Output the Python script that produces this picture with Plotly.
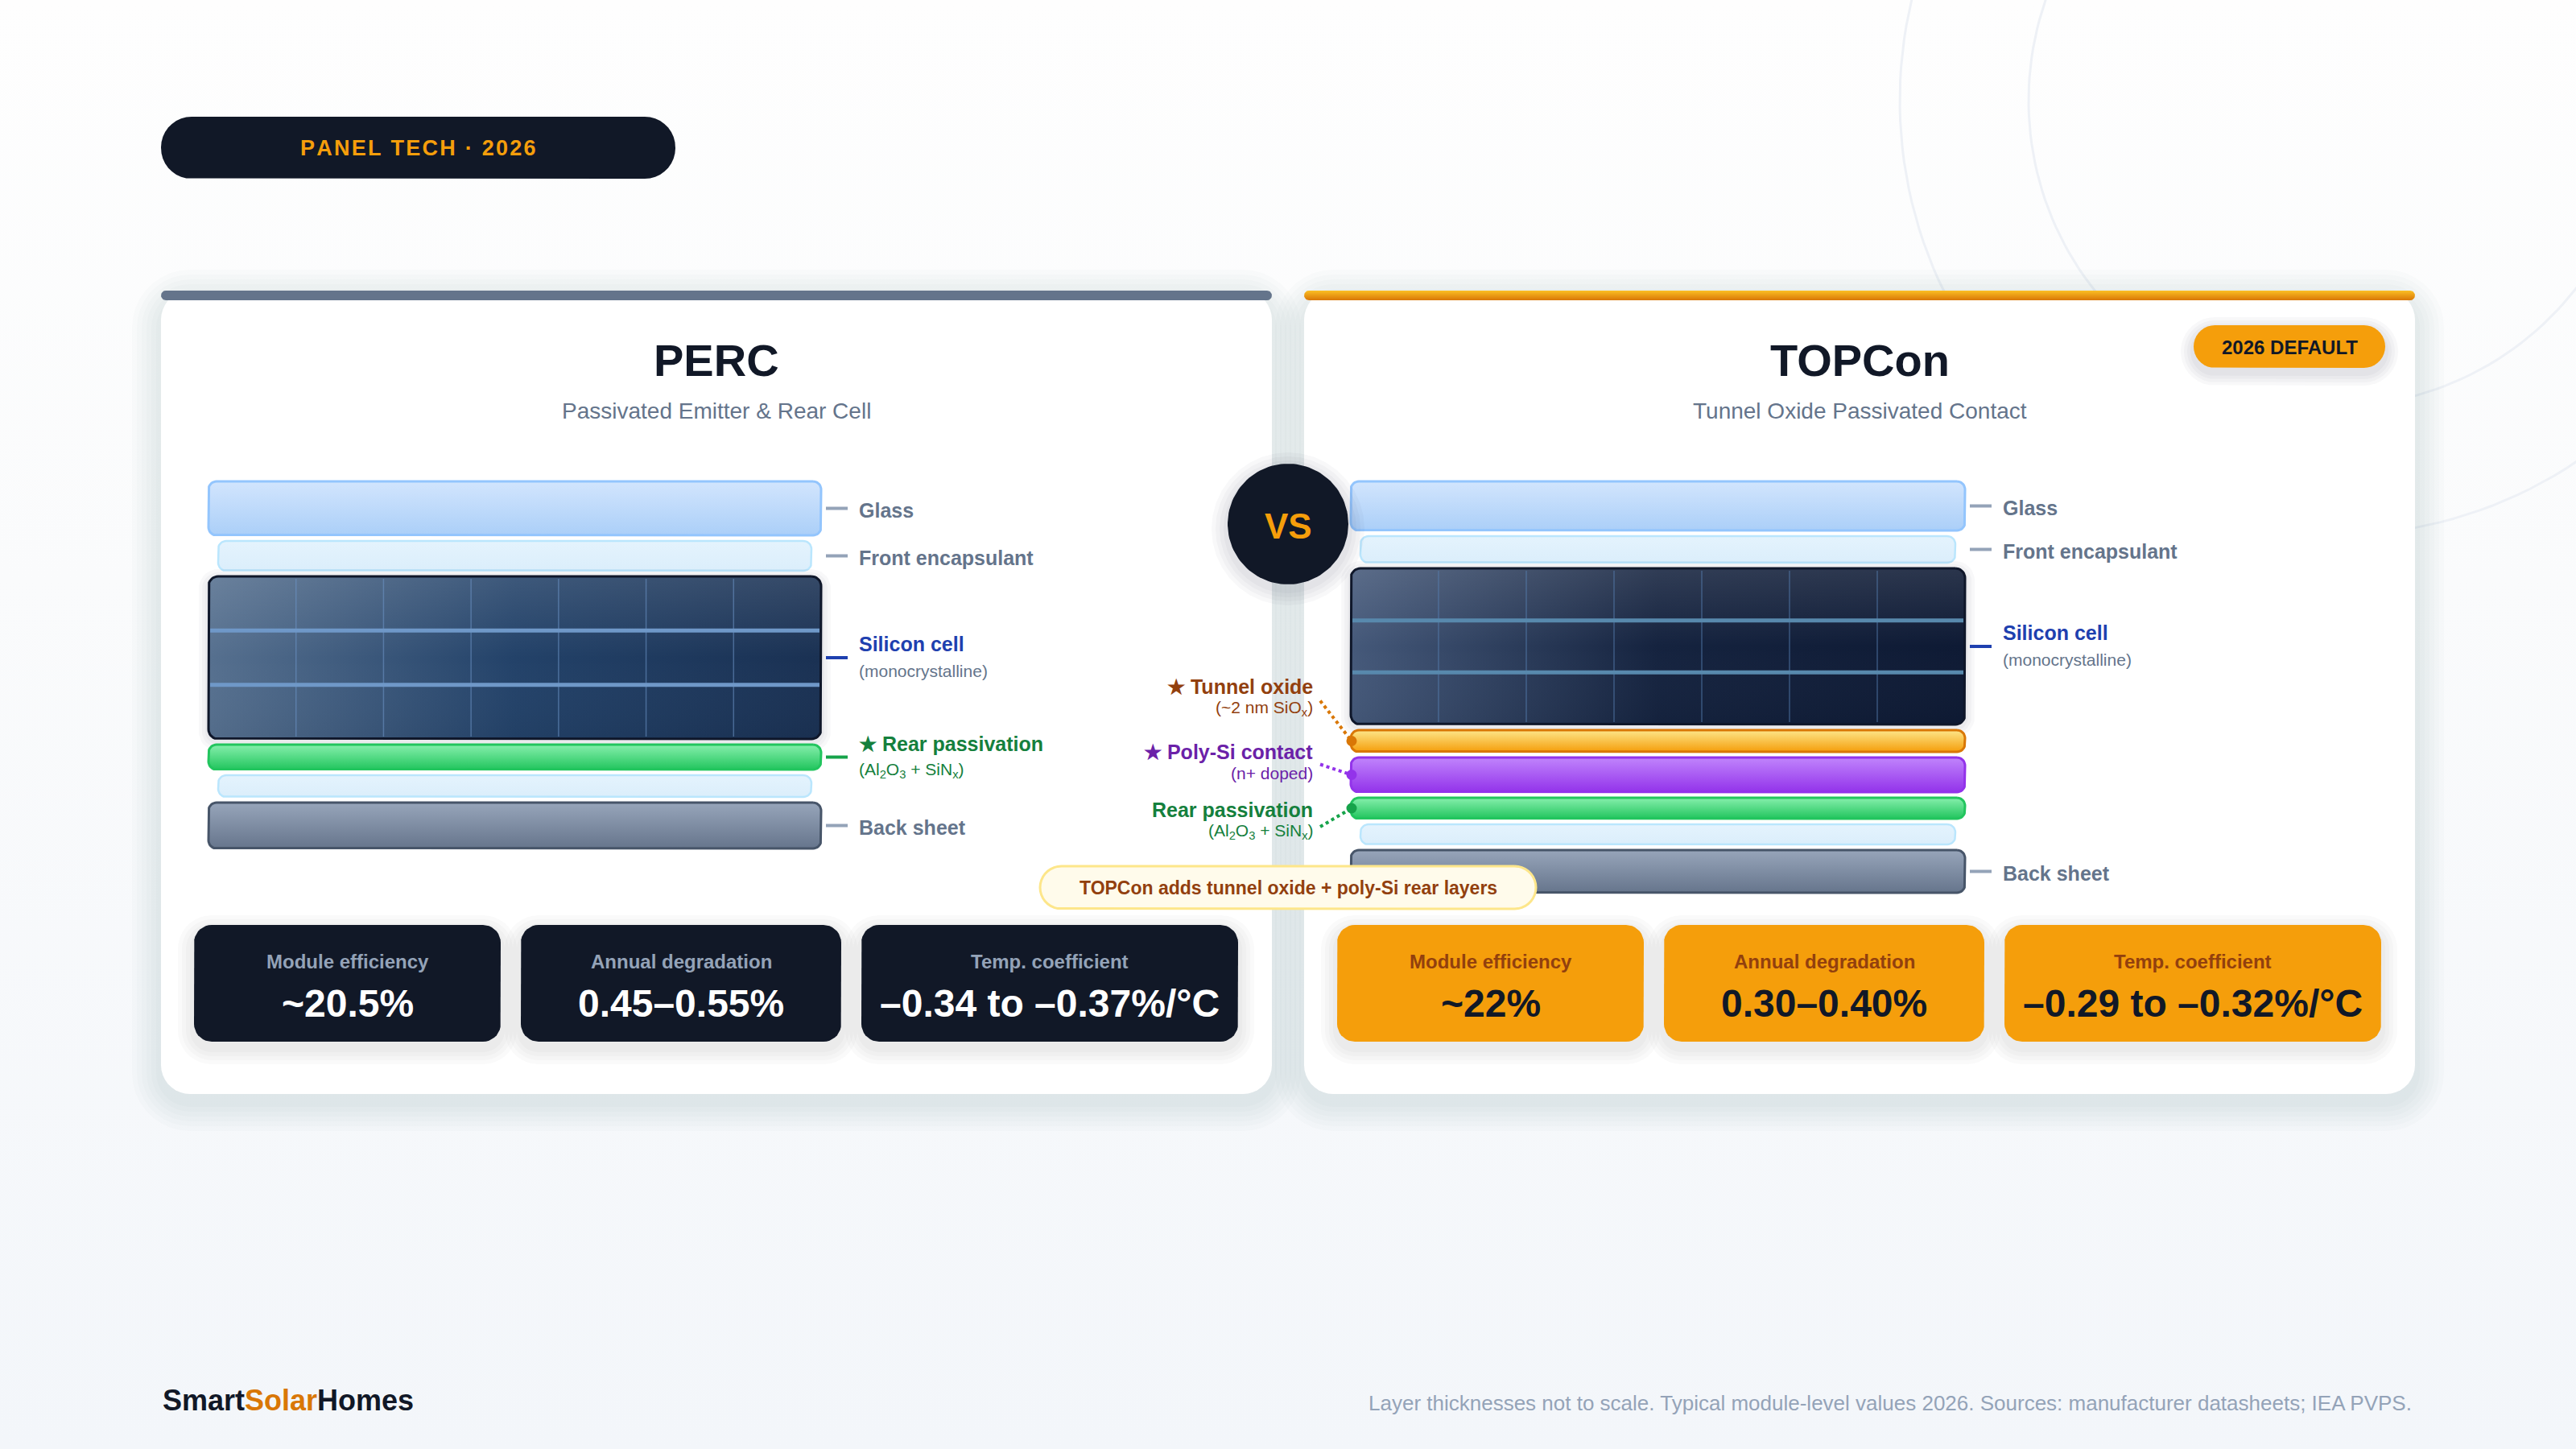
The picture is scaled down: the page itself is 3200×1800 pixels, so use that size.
import numpy as np
import plotly.graph_objects as go

W, H = 3200, 1800
FONT = "Liberation Sans, Arial, sans-serif"

# ---------------- data ----------------
badge_text = "PANEL TECH · 2026"
tech_names = ["PERC", "TOPCon"]
tech_subtitles = ["Passivated Emitter & Rear Cell", "Tunnel Oxide Passivated Contact"]
perc_layers = ["Glass", "Front encapsulant", "Silicon cell", "Rear passivation",
               "Rear encapsulant", "Back sheet"]
topcon_layers = ["Glass", "Front encapsulant", "Silicon cell", "Tunnel oxide",
                 "Poly-Si contact", "Rear passivation", "Rear encapsulant", "Back sheet"]
stat_labels = ["Module efficiency", "Annual degradation", "Temp. coefficient"]
perc_stats = ["~20.5%", "0.45–0.55%", "–0.34 to –0.37%/°C"]
topcon_stats = ["~22%", "0.30–0.40%", "–0.29 to –0.32%/°C"]
default_badge = "2026 DEFAULT"
callout_text = "TOPCon adds tunnel oxide + poly-Si rear layers"
brand = ["Smart", "Solar", "Homes"]
footnote = ("Layer thicknesses not to scale. Typical module-level values 2026. "
            "Sources: manufacturer datasheets; IEA PVPS.")

# ---------------- styles / sizes ----------------
layer_style = {
    "Glass": dict(top="#d2e5fd", bot="#abcff8", border="#93c5fd", inset=0, bw=3),
    "Front encapsulant": dict(top="#e4f3fd", bot="#dbeefb", border="#bae6fd", inset=12, bw=2.5),
    "Silicon cell": dict(top=None, bot=None, border="#0f172a", inset=0, bw=3),
    "Tunnel oxide": dict(top="#fde68a", bot="#f59e0b", border="#d97706", inset=0, bw=3),
    "Poly-Si contact": dict(top="#c084fc", bot="#9333ea", border="#9333ea", inset=0, bw=3),
    "Rear passivation": dict(top="#86efac", bot="#22c55e", border="#22c55e", inset=0, bw=3),
    "Rear encapsulant": dict(top="#e4f3fd", bot="#dbeefb", border="#bae6fd", inset=12, bw=2.5),
    "Back sheet": dict(top="#97a5ba", bot="#66758c", border="#475569", inset=0, bw=3),
}
cell_style = {
    False: dict(h=[[0, "#56708f"], [0.5, "#234269"], [1, "#1a3153"]], grid="#6f98c8",
                vline="rgba(110,150,200,0.55)"),
    True: dict(h=[[0, "#45597a"], [0.5, "#15233f"], [1, "#0e1a34"]], grid="#5889ad",
               vline="rgba(90,130,180,0.55)"),
}
perc_h = {"Glass": 67, "Front encapsulant": 37, "Silicon cell": 202, "Rear passivation": 31,
          "Rear encapsulant": 27, "Back sheet": 57}
topcon_h = {"Glass": 61, "Front encapsulant": 33, "Silicon cell": 194, "Tunnel oxide": 27,
            "Poly-Si contact": 43, "Rear passivation": 26, "Rear encapsulant": 25, "Back sheet": 53}
right_labels = {
    "Glass": ("Glass", None, "#64748b", "#94a3b8"),
    "Front encapsulant": ("Front encapsulant", None, "#64748b", "#94a3b8"),
    "Silicon cell": ("Silicon cell", "(monocrystalline)", "#1e40af", "#1e40af"),
    "Back sheet": ("Back sheet", None, "#64748b", "#94a3b8"),
}
perc_extra = {"Rear passivation": ("★ Rear passivation", "(Al<sub>2</sub>O<sub>3</sub> + SiN<sub>x</sub>)",
                                   "#15803d", "#16a34a")}
# labels placed left of the TOPCon stack: text, sub, colour, dy of label, dy of line start
left_labels = {
    "Tunnel oxide": ("★ Tunnel oxide", "(~2 nm SiO<sub>x</sub>)", "#92400e", "#d97706", -68, -50),
    "Poly-Si contact": ("★ Poly-Si contact", "(n+ doped)", "#6b21a8", "#9333ea", -29, -13),
    "Rear passivation": ("Rear passivation", "(Al<sub>2</sub>O<sub>3</sub> + SiN<sub>x</sub>)",
                         "#15803d", "#16a34a", 2, 23),
}
cards = [dict(x0=200, x1=1580), dict(x0=1620, x1=3000)]
card_y0, card_y1 = 361, 1359
stack_y0 = 598
stat_w = [381, 398, 468]

fig = go.Figure()
ann = []


def rr_pts(x0, y0, x1, y1, r, n=10):
    r = min(r, (x1 - x0) / 2, (y1 - y0) / 2)
    xs, ys = [], []
    for cx, cy, a0, a1 in [(x1 - r, y0 + r, -90, 0), (x1 - r, y1 - r, 0, 90),
                           (x0 + r, y1 - r, 90, 180), (x0 + r, y0 + r, 180, 270)]:
        t = np.radians(np.linspace(a0, a1, n))
        xs += list(cx + r * np.cos(t))
        ys += list(cy + r * np.sin(t))
    return xs + [xs[0]], ys + [ys[0]]


def box(x0, y0, x1, y1, r, fill=None, grad=None, gtype="vertical", line=None, lw=0):
    xs, ys = rr_pts(x0, y0, x1, y1, r)
    kw = dict(x=xs, y=ys, mode="lines", fill="toself", hoverinfo="skip", showlegend=False,
              line=dict(color=line if line else "rgba(0,0,0,0)", width=lw))
    if grad:
        scale = grad if isinstance(grad[0], list) else [[0, grad[0]], [1, grad[1]]]
        if gtype == "vertical":
            kw["fillgradient"] = dict(type="vertical", colorscale=scale, start=y0, stop=y1)
        else:
            kw["fillgradient"] = dict(type="horizontal", colorscale=scale, start=x0, stop=x1)
        kw["fillcolor"] = scale[0][1]
    else:
        kw["fillcolor"] = fill
    fig.add_trace(go.Scatter(**kw))


def shadow(x0, y0, x1, y1, r, steps=5, spread=7, alpha=0.018, dy=5):
    for k in range(steps, 0, -1):
        e = k * spread
        box(x0 - e, y0 - e + dy, x1 + e, y1 + e + dy, r + e, fill=f"rgba(30,41,59,{alpha})")


def text(x, y, s, size, color, anchor="center", bold=False):
    ann.append(dict(x=x, y=y, xref="x", yref="y", text=f"<b>{s}</b>" if bold else s,
                    showarrow=False, xanchor=anchor, yanchor="middle",
                    font=dict(family=FONT, size=size, color=color)))


# background
fig.add_trace(go.Scatter(x=[0, W, W, 0, 0], y=[0, 0, H, H, 0], mode="lines", fill="toself",
                         fillgradient=dict(type="vertical",
                                           colorscale=[[0, "#fefefe"], [0.4, "#fafbfc"], [1, "#f3f6fa"]],
                                           start=0, stop=H),
                         line=dict(width=0), hoverinfo="skip", showlegend=False))
# faint decorative rings
for rad in [540, 380]:
    t = np.linspace(0, 2 * np.pi, 200)
    fig.add_trace(go.Scatter(x=2900 + rad * np.cos(t), y=125 + rad * np.sin(t), mode="lines",
                             line=dict(color="#eef1f6", width=3), hoverinfo="skip", showlegend=False))

# header badge (hair spaces give the tracking)
box(200, 145, 839, 222, 38, fill="#111827")
text(519, 184, "\u200a".join(badge_text), 27, "#f59e0b", bold=True)

# cards
for i, c in enumerate(cards):
    shadow(c["x0"], card_y0, c["x1"], card_y1, 36, steps=6, spread=6, alpha=0.014, dy=10)
for i, c in enumerate(cards):
    box(c["x0"], card_y0, c["x1"], card_y1, 36, fill="#ffffff")
    if i == 0:
        box(c["x0"], card_y0, c["x1"], card_y0 + 12, 6, fill="#64748b")
    else:
        box(c["x0"], card_y0, c["x1"], card_y0 + 12, 6, grad=("#fbbf24", "#d97706"))
    cx = (c["x0"] + c["x1"]) / 2
    text(cx, 447, tech_names[i], 56, "#111827", bold=True)
    text(cx, 510, tech_subtitles[i], 28, "#64748b")


def draw_stack(layers, heights, x0, x1, extra):
    y = stack_y0
    centers = {}
    for name in layers:
        st = layer_style[name]
        h = heights[name]
        lx0, lx1 = x0 + st["inset"], x1 - st["inset"]
        if name == "Silicon cell":
            cs = cell_style[x0 > 1600]
            shadow(lx0, y, lx1, y + h, 12, steps=3, spread=4, alpha=0.03, dy=3)
            box(lx0, y, lx1, y + h, 12, grad=cs["h"], gtype="horizontal")
            box(lx0, y, lx1, y + h, 12, grad=[[0, "rgba(255,255,255,0.12)"], [0.5, "rgba(255,255,255,0)"],
                                              [1, "rgba(0,0,0,0.04)"]])
            vx, vy = [], []
            for k in range(1, 7):
                xx = lx0 + (lx1 - lx0) * k / 7
                vx += [xx, xx, None]
                vy += [y + 3, y + h - 3, None]
            fig.add_trace(go.Scatter(x=vx, y=vy, mode="lines", hoverinfo="skip", showlegend=False,
                                     line=dict(color=cs["vline"], width=1.5)))
            hx, hy = [], []
            for k in (1, 2):
                yy = y + h * k / 3
                hx += [lx0 + 2, lx1 - 2, None]
                hy += [yy, yy, None]
            fig.add_trace(go.Scatter(x=hx, y=hy, mode="lines", hoverinfo="skip", showlegend=False,
                                     line=dict(color=cs["grid"], width=5)))
            box(lx0, y, lx1, y + h, 12, fill="rgba(0,0,0,0)", line=st["border"], lw=st["bw"])
        else:
            box(lx0, y, lx1, y + h, 10, grad=(st["top"], st["bot"]), line=st["border"], lw=st["bw"])
        centers[name] = y + h / 2
        lab = right_labels.get(name) or extra.get(name)
        if lab:
            t, sub, col, lcol = lab
            cy = y + h / 2
            fig.add_trace(go.Scatter(x=[x1 + 6, x1 + 33], y=[cy, cy], mode="lines", hoverinfo="skip",
                                     showlegend=False, line=dict(color=lcol, width=4)))
            if sub:
                text(x1 + 45, cy - 17, t, 25, col, anchor="left", bold=True)
                text(x1 + 45, cy + 16, sub, 21, col if name != "Silicon cell" else "#64748b", anchor="left")
            else:
                text(x1 + 45, cy + 2, t, 25, "#64748b", anchor="left", bold=True)
        y += h + 7
    return centers


draw_stack(perc_layers, perc_h, 259, 1020, perc_extra)
tc = draw_stack(topcon_layers, topcon_h, 1678, 2441, {})

# left-side labels for the TOPCon-only layers
for name, (t, sub, col, lcol, dy, ldy) in left_labels.items():
    cy = tc[name]
    text(1633, cy + dy, t, 25, col, anchor="right", bold=True)
    text(1633, cy + dy + 27, sub, 21, col, anchor="right")
    fig.add_trace(go.Scatter(x=[1640, 1679], y=[cy + ldy, cy], mode="lines", hoverinfo="skip",
                             showlegend=False, line=dict(color=lcol, width=4, dash="dot")))
    fig.add_trace(go.Scatter(x=[1679], y=[cy], mode="markers", hoverinfo="skip", showlegend=False,
                             marker=dict(color=lcol, size=13, line=dict(width=0))))

# VS bubble
shadow(1525, 576, 1675, 726, 75, steps=4, spread=5, alpha=0.03, dy=6)
t = np.linspace(0, 2 * np.pi, 120)
fig.add_trace(go.Scatter(x=1600 + 75 * np.cos(t), y=651 + 75 * np.sin(t), mode="lines", fill="toself",
                         fillcolor="#111827", line=dict(width=0), hoverinfo="skip", showlegend=False))
text(1600, 653, "VS", 44, "#f59e0b", bold=True)

# 2026 default badge
shadow(2725, 404, 2963, 457, 27, steps=4, spread=4, alpha=0.03, dy=6)
box(2725, 404, 2963, 457, 27, fill="#f59e0b")
text(2844, 431, default_badge, 24, "#111827", bold=True)

# callout
box(1292, 1076, 1908, 1129, 27, fill="#fffbeb", line="#fde68a", lw=3)
text(1600, 1103, callout_text, 23, "#92400e", bold=True)

# stat boxes
for i, c in enumerate(cards):
    vals = perc_stats if i == 0 else topcon_stats
    bg, lc, vc = ("#111827", "#94a3b8", "#ffffff") if i == 0 else ("#f59e0b", "#92400e", "#111827")
    x = c["x0"] + 41
    for j, lab in enumerate(stat_labels):
        w = stat_w[j]
        shadow(x, 1149, x + w, 1294, 22, steps=4, spread=5, alpha=0.025, dy=8)
        box(x, 1149, x + w, 1294, 22, fill=bg)
        text(x + w / 2, 1194, lab, 24, lc, bold=True)
        text(x + w / 2, 1246, vals[j], 48, vc, bold=True)
        x += w + 25

# footer
ann.append(dict(x=200, y=1739, xref="x", yref="y", showarrow=False, xanchor="left", yanchor="middle",
                text=f"<b>{brand[0]}<span style='color:#d97706'>{brand[1]}</span>{brand[2]}</b>",
                font=dict(family=FONT, size=36, color="#111827")))
text(2998, 1743, footnote, 26, "#94a3b8", anchor="right")

fig.update_layout(
    width=W, height=H, margin=dict(l=0, r=0, t=0, b=0),
    paper_bgcolor="#f9fafc", plot_bgcolor="#f9fafc",
    xaxis=dict(range=[0, W], visible=False, fixedrange=True),
    yaxis=dict(range=[H, 0], visible=False, fixedrange=True),
    annotations=ann, showlegend=False,
)
fig.write_html("out.html", config={"displayModeBar": False},
               post_script="document.body.style.margin='0px';document.body.style.overflow='hidden';")
